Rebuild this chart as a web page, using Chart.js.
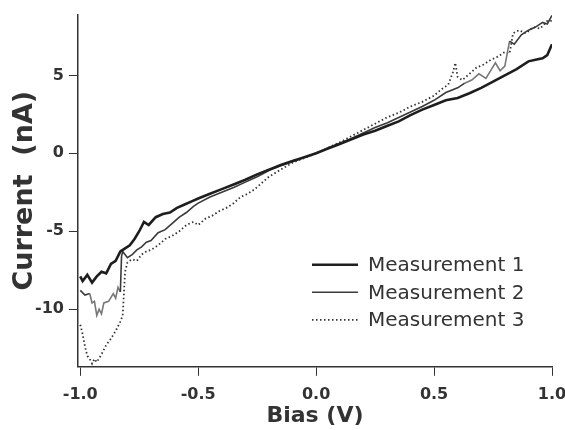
<!DOCTYPE html>
<html>
<head>
<meta charset="utf-8">
<script src="https://cdn.jsdelivr.net/npm/chart.js@4"></script>
<style>
  html, body { margin: 0; padding: 0; background: #fff; }
  #wrap { width: 565px; height: 430px; }
</style>
</head>
<body>
<div id="wrap"><canvas id="iv-chart"></canvas></div>
<script>
// tick labels
const biasTicks = [-1.0, -0.5, 0.0, 0.5, 1.0];
const currentTicks = [-10, -5, 0, 5];

// Measurement 1
const bias1 = [-1.0, -0.99, -0.97, -0.95, -0.93, -0.91, -0.89, -0.87, -0.85, -0.83, -0.81, -0.79, -0.77, -0.75, -0.73, -0.71, -0.68, -0.65, -0.62, -0.59, -0.56, -0.53, -0.5, -0.45, -0.4, -0.35, -0.3, -0.25, -0.2, -0.15, -0.1, -0.05, 0, 0.05, 0.1, 0.15, 0.2, 0.25, 0.3, 0.35, 0.4, 0.45, 0.5, 0.55, 0.6, 0.65, 0.7, 0.75, 0.8, 0.85, 0.9, 0.93, 0.96, 0.98, 1.0];
const current1 = [-7.9, -8.2, -7.8, -8.3, -7.9, -7.6, -7.7, -7.1, -6.9, -6.3, -6.1, -5.9, -5.5, -5.0, -4.4, -4.6, -4.1, -3.9, -3.8, -3.5, -3.3, -3.1, -2.9, -2.6, -2.3, -2.0, -1.7, -1.35, -1.05, -0.75, -0.5, -0.25, 0, 0.3, 0.6, 0.9, 1.2, 1.45, 1.75, 2.05, 2.45, 2.8, 3.1, 3.4, 3.55, 3.85, 4.2, 4.6, 5.0, 5.4, 5.9, 6.0, 6.1, 6.3, 7.0];

// Measurement 2
const bias2 = [-1.0, -0.98, -0.96, -0.95, -0.94, -0.93, -0.92, -0.91, -0.9, -0.88, -0.86, -0.85, -0.84, -0.83, -0.825, -0.82, -0.8, -0.78, -0.76, -0.74, -0.72, -0.7, -0.67, -0.64, -0.61, -0.58, -0.55, -0.52, -0.5, -0.45, -0.4, -0.35, -0.3, -0.25, -0.2, -0.15, -0.1, -0.05, 0, 0.05, 0.1, 0.15, 0.2, 0.25, 0.3, 0.35, 0.4, 0.45, 0.5, 0.55, 0.6, 0.63, 0.66, 0.69, 0.72, 0.74, 0.76, 0.78, 0.8, 0.82, 0.84, 0.87, 0.9, 0.93, 0.96, 0.98, 1.0];
const current2 = [-8.8, -9.1, -9.0, -9.6, -9.5, -10.4, -10.0, -10.3, -9.6, -9.5, -9.0, -9.3, -8.6, -8.9, -6.6, -6.3, -6.7, -6.5, -6.2, -6.0, -5.7, -5.6, -5.1, -4.9, -4.5, -4.1, -3.8, -3.4, -3.2, -2.8, -2.5, -2.2, -1.85, -1.5, -1.1, -0.8, -0.55, -0.25, 0, 0.35, 0.65, 0.95, 1.3, 1.65, 1.95, 2.3, 2.65, 3.0, 3.4, 3.9, 4.2, 4.5, 4.7, 5.1, 4.8, 5.3, 5.8, 5.3, 5.6, 7.2, 7.0, 7.6, 7.9, 8.1, 8.4, 8.3, 8.85];

// Measurement 3
const bias3 = [-1.0, -0.99, -0.98, -0.97, -0.96, -0.95, -0.94, -0.93, -0.91, -0.89, -0.87, -0.85, -0.83, -0.82, -0.815, -0.81, -0.8, -0.78, -0.76, -0.74, -0.72, -0.7, -0.67, -0.64, -0.61, -0.58, -0.55, -0.52, -0.5, -0.47, -0.44, -0.41, -0.38, -0.35, -0.32, -0.29, -0.26, -0.23, -0.2, -0.15, -0.1, -0.05, 0, 0.05, 0.1, 0.15, 0.2, 0.25, 0.3, 0.35, 0.4, 0.45, 0.5, 0.53, 0.56, 0.58, 0.59, 0.6, 0.62, 0.65, 0.68, 0.71, 0.74, 0.77, 0.8, 0.82, 0.835, 0.86, 0.89, 0.92, 0.95, 0.98, 1.0];
const current3 = [-11.0, -11.6, -12.4, -13.0, -13.2, -13.5, -13.2, -13.4, -12.9, -12.3, -11.9, -11.4, -10.8, -10.4, -9.0, -7.6, -7.0, -6.8, -6.9, -6.5, -6.3, -6.2, -5.9, -5.5, -5.3, -5.0, -4.6, -4.4, -4.6, -4.2, -4.0, -3.7, -3.5, -3.2, -2.8, -2.6, -2.3, -1.9, -1.5, -1.05, -0.6, -0.3, 0, 0.35, 0.7, 1.1, 1.5, 1.9, 2.3, 2.6, 3.0, 3.3, 3.7, 4.1, 4.4, 5.2, 5.8, 4.9, 4.7, 5.1, 5.5, 5.7, 6.0, 6.2, 6.5, 6.4, 7.7, 7.9, 7.7, 8.1, 8.0, 8.5, 8.5];

const seriesNames = ["Measurement 1", "Measurement 2", "Measurement 3"];

function toPoints(xs, ys) {
  return xs.map((x, i) => ({ x: x, y: ys[i] }));
}

// the noisy stretches of measurement 2 print greyer in the original
function greyStretch(seg) {
  const v = seg.p0.parsed.x;
  return (v > -0.97 && v < -0.83) || (v > 0.6 && v < 0.82) ? "#777" : undefined;
}

// legend drawn inside the plot, lower right
const insideLegend = {
  id: "insideLegend",
  afterDraw(chart) {
    const ctx = chart.ctx;
    const area = chart.chartArea;
    const x0 = area.right - 240;
    const y0 = area.bottom - 102;
    ctx.save();
    ctx.font = "20px 'DejaVu Sans'";
    ctx.textBaseline = "middle";
    chart.data.datasets.forEach((ds, i) => {
      const y = y0 + i * 27.5;
      ctx.beginPath();
      ctx.strokeStyle = ds.borderColor;
      ctx.lineWidth = ds.borderWidth;
      ctx.setLineDash(ds.borderDash || []);
      ctx.moveTo(x0, y);
      ctx.lineTo(x0 + 46, y);
      ctx.stroke();
      ctx.setLineDash([]);
      ctx.fillStyle = "#333";
      ctx.fillText(ds.label, x0 + 56, y + 1);
    });
    ctx.restore();
  },
};

const ctx = document.getElementById("iv-chart").getContext("2d");

new Chart(ctx, {
  type: "line",
  data: {
    datasets: [
      {
        label: seriesNames[0],
        data: toPoints(bias1, current1),
        borderColor: "#1e1e1e",
        borderWidth: 2.6,
        pointRadius: 0,
        tension: 0,
      },
      {
        label: seriesNames[1],
        data: toPoints(bias2, current2),
        borderColor: "#3a3a3a",
        borderWidth: 1.6,
        pointRadius: 0,
        tension: 0,
        segment: { borderColor: greyStretch },
      },
      {
        label: seriesNames[2],
        data: toPoints(bias3, current3),
        borderColor: "#333",
        borderWidth: 1.8,
        borderDash: [1.5, 2.5],
        pointRadius: 0,
        tension: 0,
      },
    ],
  },
  options: {
    responsive: true,
    maintainAspectRatio: false,
    animation: false,
    layout: { padding: { top: 14, right: 13, left: 3, bottom: 3 } },
    scales: {
      x: {
        type: "linear",
        min: -1.01,
        max: 1.0,
        afterBuildTicks: (axis) => {
          axis.ticks = biasTicks.map((v) => ({ value: v }));
        },
        afterFit: (axis) => {
          // let the last label run off the edge like the original
          axis.paddingRight = 0;
        },
        grid: { drawOnChartArea: false, drawTicks: true, tickLength: 9, color: "#333" },
        border: { display: true, color: "#333", width: 1.5 },
        ticks: {
          color: "#333",
          font: { family: "DejaVu Sans", size: 16, weight: "bold" },
          padding: 9,
          maxRotation: 0,
          callback: (v) => Number(v).toFixed(1),
        },
        title: {
          display: true,
          text: "Bias (V)",
          color: "#333",
          font: { family: "DejaVu Sans", size: 22, weight: "bold", lineHeight: 1.0 },
          padding: { top: -8, bottom: 0 },
        },
      },
      y: {
        type: "linear",
        min: -13.7,
        max: 8.9,
        afterBuildTicks: (axis) => {
          axis.ticks = currentTicks.map((v) => ({ value: v }));
        },
        grid: { drawOnChartArea: false, drawTicks: true, tickLength: 9, color: "#333" },
        border: { display: true, color: "#333", width: 1.5 },
        ticks: {
          color: "#333",
          font: { family: "DejaVu Sans", size: 16, weight: "bold" },
          padding: 5,
        },
        title: {
          display: true,
          text: "Current  (nA)",
          color: "#333",
          font: { family: "DejaVu Sans", size: 27, weight: "bold", lineHeight: 1.0 },
          padding: { top: 8, bottom: -8 },
        },
      },
    },
    plugins: {
      legend: { display: false },
      tooltip: { enabled: false },
    },
  },
  plugins: [insideLegend],
});
</script>
</body>
</html>
